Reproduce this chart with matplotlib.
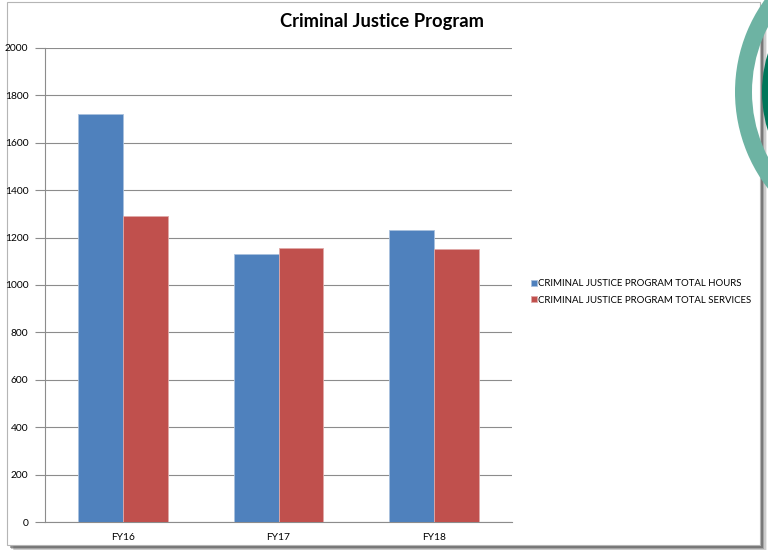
import matplotlib
matplotlib.use("Agg")
import matplotlib.pyplot as plt
import numpy as np
from matplotlib.patches import Rectangle, Circle, Wedge

categories = ["FY16", "FY17", "FY18"]
series_names = ["CRIMINAL JUSTICE PROGRAM TOTAL HOURS", "CRIMINAL JUSTICE PROGRAM TOTAL SERVICES"]
hours = [1720, 1130, 1232]
services = [1290, 1156, 1152]
yticks = [0, 200, 400, 600, 800, 1000, 1200, 1400, 1600, 1800, 2000]

W, H = 768, 550
plt.rcParams['font.family'] = ['Lato', 'DejaVu Sans']
fig = plt.figure(figsize=(W / 100, H / 100), dpi=100)
fig.patch.set_facecolor("white")

# background frame with shadow
bg = fig.add_axes([0, 0, 1, 1], zorder=-5)
bg.set_xlim(0, W)
bg.set_ylim(H, 0)
bg.axis("off")
for i, a in enumerate([0.10, 0.18, 0.28, 0.45]):
    off = 7 - i * 1.5
    bg.add_patch(Rectangle((7 + off, 2 + off), 753, 543, facecolor="#404040", alpha=a, edgecolor="none"))
bg.add_patch(Rectangle((7, 2), 753, 543, facecolor="white", edgecolor="#b5b5b5", lw=0.8))

ax = fig.add_axes([45 / W, 1 - 522 / H, (512 - 45) / W, (522 - 48) / H])
x = np.arange(len(categories))
bw = 0.287
ax.bar(x - bw / 2, hours, bw, color="#4f81bd", edgecolor="#a9c1de", lw=0.6, label=series_names[0], zorder=3)
ax.bar(x + bw / 2, services, bw, color="#c0504d", edgecolor="#e0a9a8", lw=0.6, label=series_names[1], zorder=3)
ax.set_xlim(-0.5, len(categories) - 0.5)
ax.set_ylim(0, 2000)
ax.set_yticks(yticks)
ax.set_yticklabels([str(v) for v in yticks], fontsize=7.4)
ax.set_xticks(x)
ax.set_xticklabels(categories, fontsize=7.4)
ax.tick_params(axis="y", length=7, color="#8c8c8c", width=0.8, pad=5)
ax.tick_params(axis="x", length=0, pad=8)
ax.yaxis.grid(True, color="#8c8c8c", lw=0.8, zorder=0)
ax.set_axisbelow(True)
for s in ["top", "right"]:
    ax.spines[s].set_visible(False)
for s in ["left", "bottom"]:
    ax.spines[s].set_color("#8c8c8c")
    ax.spines[s].set_linewidth(0.8)

fig.text(382 / W, 1 - 22 / H, "Criminal Justice Program", ha="center", va="center",
         fontsize=13.2, fontweight="bold")

leg = fig.legend(loc="center left", bbox_to_anchor=(527 / W, 1 - 292 / H), frameon=False,
                 fontsize=6.9, handlelength=0.6, handleheight=0.6, handletextpad=0.2,
                 labelspacing=0.75, borderaxespad=0)

# decorative ring at top-right
fg = fig.add_axes([0, 0, 1, 1], zorder=20)
fg.set_xlim(0, W)
fg.set_ylim(H, 0)
fg.axis("off")
fg.patch.set_alpha(0)
fg.add_patch(Wedge((893, 92), 158, 0, 360, width=17, facecolor="#6db3a3", edgecolor="none"))
fg.add_patch(Wedge((893, 92), 131, 0, 360, width=7, facecolor="#00775a", edgecolor="none"))

fig.savefig("out.png", dpi=100)
